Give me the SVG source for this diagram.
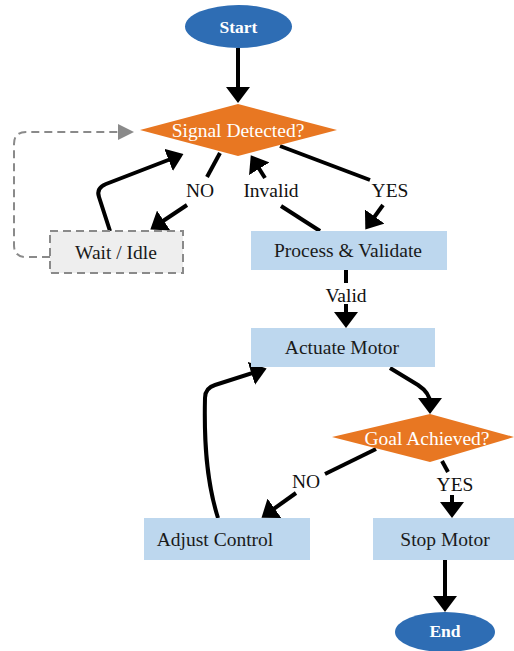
<svg xmlns="http://www.w3.org/2000/svg" width="514" height="651" viewBox="0 0 514 651">
  <style>
    .t { font-family: "Liberation Serif", "Times New Roman", serif; font-size: 19.5px; text-anchor: middle; dominant-baseline: central; fill: #1a1a1a; }
    .w { fill: #ffffff; }
    .b { font-weight: bold; font-size: 17.5px; }
    .box { fill: #bdd7ee; }
    .term { fill: #2e6db4; }
    .dec { fill: #e87722; }
    .c { fill: none; stroke: #000; stroke-width: 4; stroke-linejoin: round; }
    .arr { marker-end: url(#ah); }
    .dash { fill: none; stroke: #8a8a8a; stroke-width: 2; stroke-dasharray: 8 5; }
    .lbl { font-family: "Liberation Serif", "Times New Roman", serif; font-size: 19.5px; text-anchor: middle; dominant-baseline: central; fill: #111; }
  </style>
  <defs>
    <marker id="ah" viewBox="0 0 16 24" refX="8" refY="12" markerWidth="16" markerHeight="24" markerUnits="userSpaceOnUse" orient="auto">
      <path d="M0,0 L16,12 L0,24 z" fill="#000"/>
    </marker>
    <marker id="ahg" viewBox="0 0 16 16" refX="2" refY="8" markerWidth="16" markerHeight="16" markerUnits="userSpaceOnUse" orient="auto">
      <path d="M0,0 L16,8 L0,16 z" fill="#8a8a8a"/>
    </marker>
  </defs>
  <rect width="514" height="651" fill="#ffffff"/>

  <g id="connectors">
    <path class="c arr" d="M238,48 L238,95"/>
    <path class="dash" d="M50,257 L26,257 Q14,257 14,245 L14,144 Q14,132 26,132 L120,132" marker-end="url(#ahg)"/>
    <path class="c arr" d="M110,231 L99,197 Q96,188 106,184 L176,157"/>
    <path class="c" d="M220,153 L207,177"/>
    <path class="c arr" d="M187,205 L157,225"/>
    <path class="c" d="M320,231 L281,206"/>
    <path class="c arr" d="M265,178 L255,162"/>
    <path class="c" d="M280,146 L370,180"/>
    <path class="c arr" d="M383,205 L370,223"/>
    <path class="c" d="M346,270 L346,283"/>
    <path class="c arr" d="M346,304 L346,320"/>
    <path class="c arr" d="M390,368 L418,385 Q430,393 430,403 L430,406"/>
    <path class="c" d="M376,449 L325,474"/>
    <path class="c arr" d="M296,493 L268,513"/>
    <path class="c" d="M442,461 L448,472"/>
    <path class="c arr" d="M452,495 L452,510"/>
    <path class="c arr" d="M218,518 C206,480 204,440 205,398 Q205,388 215,385 L259,371"/>
    <path class="c arr" d="M445,560 L445,604"/>
  </g>

  <g id="lbl-no1"><text class="lbl" x="200" y="190">NO</text></g>
  <g id="lbl-invalid"><text class="lbl" x="271" y="190">Invalid</text></g>
  <g id="lbl-yes1"><text class="lbl" x="390" y="190">YES</text></g>
  <g id="lbl-valid"><text class="lbl" x="346" y="295">Valid</text></g>
  <g id="lbl-no2"><text class="lbl" x="306" y="481">NO</text></g>
  <g id="lbl-yes2"><text class="lbl" x="455" y="484">YES</text></g>

  <g id="start">
    <ellipse class="term" cx="238.5" cy="26.5" rx="53.5" ry="21.5"/>
    <text class="t w b" x="238.5" y="26.5">Start</text>
  </g>
  <g id="signal">
    <polygon class="dec" points="238,104 337,130 238,156 140,130"/>
    <text class="t w" x="238" y="130">Signal Detected?</text>
  </g>
  <g id="wait">
    <rect x="50" y="231" width="133" height="42" fill="#eeeeee" stroke="#8a8a8a" stroke-width="2" stroke-dasharray="8 5"/>
    <text class="t" x="116" y="252">Wait / Idle</text>
  </g>
  <g id="process">
    <rect class="box" x="251" y="231" width="196" height="39"/>
    <text class="t" x="348" y="250">Process &amp; Validate</text>
  </g>
  <g id="actuate">
    <rect class="box" x="251" y="328" width="184" height="39"/>
    <text class="t" x="342" y="347">Actuate Motor</text>
  </g>
  <g id="goal">
    <polygon class="dec" points="430,414 514,437 430,462 332,437"/>
    <text class="t w" x="427" y="438">Goal Achieved?</text>
  </g>
  <g id="adjust">
    <rect class="box" x="144" y="518" width="166" height="42"/>
    <text class="t" x="215" y="539">Adjust Control</text>
  </g>
  <g id="stop">
    <rect class="box" x="373" y="518" width="141" height="42"/>
    <text class="t" x="445" y="539">Stop Motor</text>
  </g>
  <g id="end">
    <ellipse class="term" cx="445" cy="632" rx="50" ry="20"/>
    <text class="t w b" x="445" y="631">End</text>
  </g>
</svg>
